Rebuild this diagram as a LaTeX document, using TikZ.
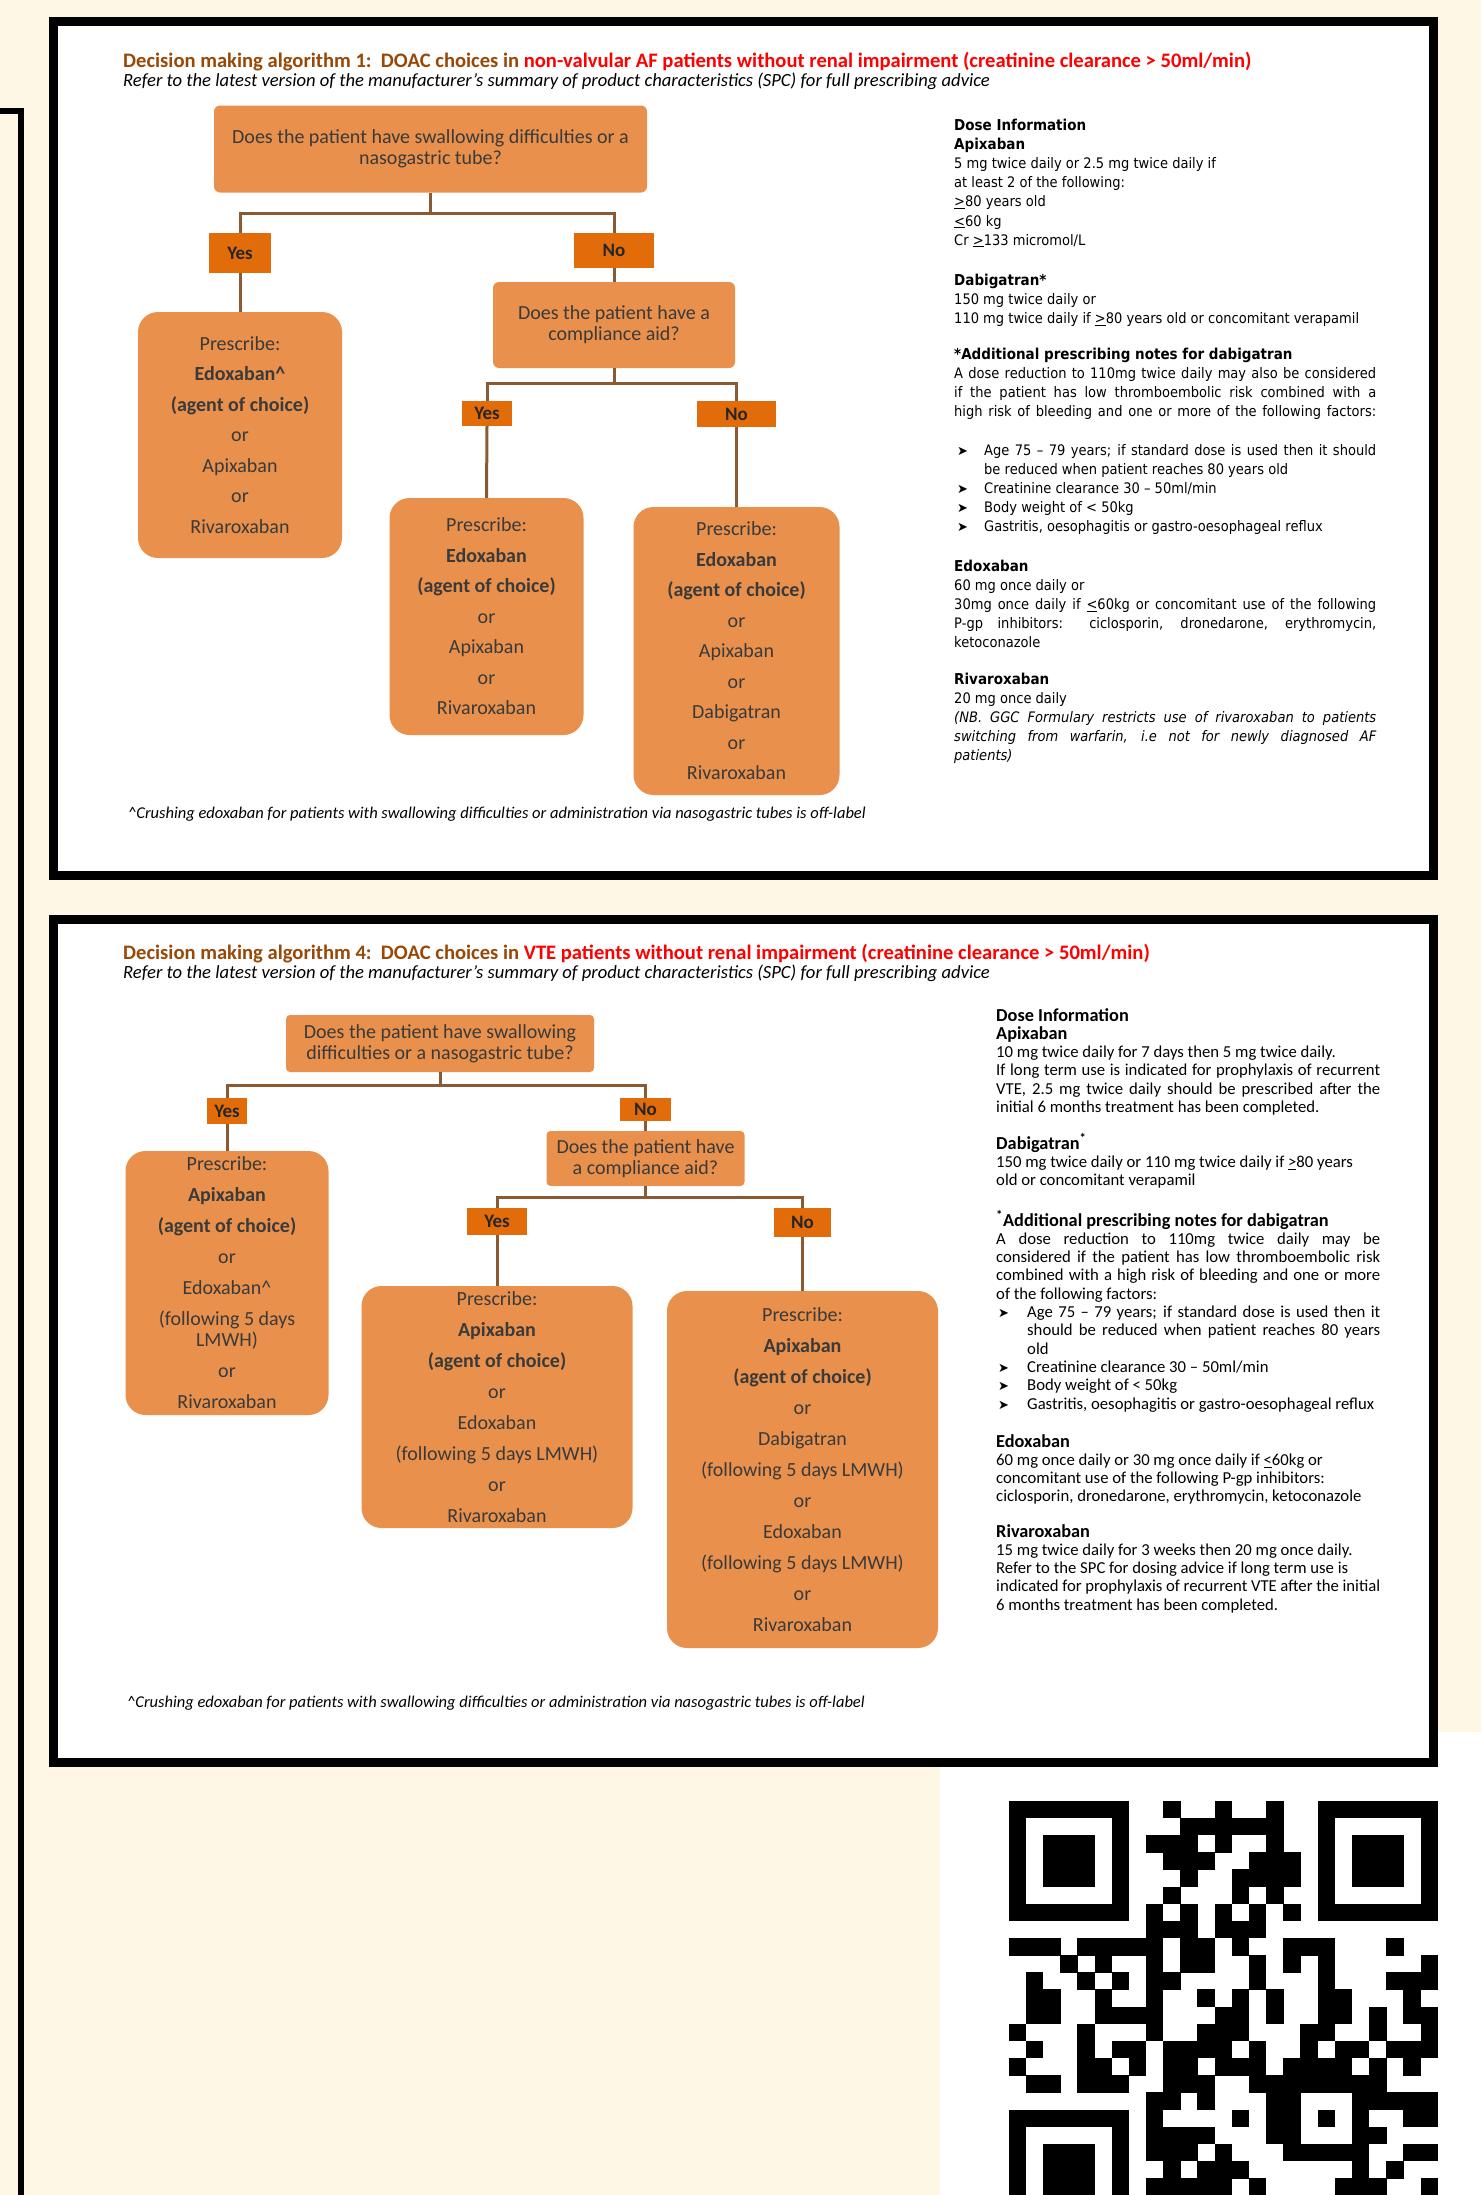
\documentclass[tikz,border=0pt]{standalone}
\usepackage{fontspec}
\usepackage{xcolor}
\setmainfont{Carlito}
\newfontfamily\tahomafam[FakeStretch=0.9]{DejaVu Sans}
\newfontfamily\arrowfam{DejaVu Sans}

\definecolor{cream}{HTML}{FEF7E6}
\definecolor{boxorange}{HTML}{E9914C}
\definecolor{answerorange}{HTML}{E36C0A}
\definecolor{linkbrown}{HTML}{8C5A32}
\definecolor{titlebrown}{HTML}{984807}
\definecolor{headred}{HTML}{FF0000}
\definecolor{boxtext}{HTML}{3A3A3A}

\newcommand{\titlefont}{\fontsize{20.6}{23}\selectfont\bfseries}
\newcommand{\subfont}{\fontsize{18.6}{21}\selectfont\itshape}
\newcommand{\notefont}{\fontsize{16.5}{19}\selectfont\itshape}
\newcommand{\askfont}{\fontsize{20}{21}\selectfont}
\newcommand{\rxfontA}{\fontsize{20}{30.5}\selectfont}
\newcommand{\rxfontB}{\fontsize{20}{31}\selectfont}
\newcommand{\answerfont}{\fontsize{19}{21}\selectfont\bfseries}
\newcommand{\doseAfont}{\tahomafam\fontsize{14.5}{19.2}\selectfont}
\newcommand{\doseBfont}{\fontsize{16.7}{18.3}\selectfont}
\newcommand{\hdA}[1]{{\fontsize{15}{19.2}\selectfont\bfseries #1}}
\newcommand{\hdB}[1]{{\fontsize{18.3}{18.3}\selectfont\bfseries #1}}
\newcommand{\jA}[1]{\makebox[422pt][s]{#1}}
\newcommand{\jAb}[1]{\makebox[392pt][s]{#1}}
\newcommand{\jB}[1]{\makebox[384pt][s]{#1}}
\newcommand{\jBb}[1]{\makebox[353pt][s]{#1}}
\newcommand{\bulA}{\hspace*{3pt}\makebox[27pt][l]{\arrowfam\fontsize{13}{13}\selectfont ➤}}
\newcommand{\bulB}{\hspace*{2pt}\makebox[29pt][l]{\arrowfam\fontsize{13}{13}\selectfont ➤}}

\tikzset{
  panel/.style={fill=white, draw=black, line width=9pt},
  head/.style={anchor=base west, inner sep=0pt, font=\titlefont, text=headred},
  subhead/.style={anchor=base west, inner sep=0pt, font=\subfont},
  footnote/.style={anchor=base west, inner sep=0pt, font=\notefont},
  askbox/.style={fill=boxorange, rounded corners=6pt, inner sep=0pt, align=center, text=boxtext, font=\askfont},
  rxbox/.style={fill=boxorange, rounded corners=20pt, inner sep=0pt, align=center, text=boxtext},
  answer/.style={fill=answerorange, inner sep=0pt, font=\answerfont, text=black!85},
  link/.style={draw=linkbrown, line width=3pt},
  doseA/.style={anchor=base west, inner sep=0pt, align=flush left, text width=422pt, font=\doseAfont},
  doseB/.style={anchor=base west, inner sep=0pt, align=flush left, text width=384pt, font=\doseBfont}
}

\begin{document}
\begin{tikzpicture}[x=1pt,y=-1pt]
  \useasboundingbox (0,0) rectangle (1481,2195);
  \fill[cream] (0,0) rectangle (1481,2195);
  \fill[white] (940,1732) rectangle (1481,2195);
  \draw[line width=6pt] (0,111) -- (20.5,111) -- (20.5,2200);
  \draw[panel] (53,21) rectangle (1433,875);
  \draw[panel] (53,919) rectangle (1433,1762);

  % algorithm 1
  \node[head] (title1) at (123,67) {\textcolor{titlebrown}{Decision making algorithm 1:\ \ DOAC choices in} non-valvular AF patients without renal impairment (creatinine clearance > 50ml/min)};
  \node[subhead] (sub1) at (123,86) {Refer to the latest version of the manufacturer’s summary of product characteristics (SPC) for full prescribing advice};

  \node[askbox, minimum width=433, minimum height=87] (q1a) at (430.5,149) {Does the patient have swallowing difficulties or a\\nasogastric tube?};
  \node[answer, minimum width=62, minimum height=40] (yes1a) at (240,253) {Yes};
  \node[answer, minimum width=80, minimum height=35] (no1a) at (614,250.5) {No};
  \node[rxbox, font=\rxfontA, minimum width=204, minimum height=246] (rxa1) at (240,435) {Prescribe:\\\textbf{Edoxaban\textasciicircum}\\\textbf{(agent of choice)}\\or\\Apixaban\\or\\Rivaroxaban};
  \node[askbox, minimum width=242, minimum height=86] (q2a) at (614,325) {Does the patient have a\\compliance aid?};
  \node[answer, minimum width=50, minimum height=25] (yes2a) at (487,413.5) {Yes};
  \node[answer, minimum width=79, minimum height=26] (no2a) at (736.5,414) {No};
  \node[rxbox, font=\rxfontA, minimum width=194, minimum height=237] (rxa2) at (486.5,616.5) {Prescribe:\\\textbf{Edoxaban}\\\textbf{(agent of choice)}\\or\\Apixaban\\or\\Rivaroxaban};
  \node[rxbox, font=\rxfontA, minimum width=206, minimum height=288] (rxa3) at (736.5,651) {Prescribe:\\\textbf{Edoxaban}\\\textbf{(agent of choice)}\\or\\Apixaban\\or\\Dabigatran\\or\\Rivaroxaban};

  \draw[link] (q1a.south) -- ++(0,20.5) -| (yes1a.north);
  \draw[link] (q1a.south) -- ++(0,20.5) -| (no1a.north);
  \draw[link] (yes1a.south) -- (rxa1.north);
  \draw[link] (no1a.south) -- (q2a.north);
  \draw[link] (q2a.south) -- ++(0,15) -| (yes2a.north);
  \draw[link] (q2a.south) -- ++(0,15) -| (no2a.north);
  \draw[link] (yes2a.south) -- (rxa2.north);
  \draw[link] (no2a.south) -- (rxa3.north);

  \node[footnote] (note1) at (128,818) {\textasciicircum Crushing edoxaban for patients with swallowing difficulties or administration via nasogastric tubes is off-label};

  \node[doseA] (dose1a) at (954,130) {\hdA{Dose Information}\\\hdA{Apixaban}\\5 mg twice daily or 2.5 mg twice daily if\\at least 2 of the following:\\\underline{>}80 years old\\\underline{<}60 kg\\Cr \underline{>}133 micromol/L};
  \node[doseA] (dose1b) at (954,285) {\hdA{Dabigatran*}\\150 mg twice daily or\\110 mg twice daily if \underline{>}80 years old or concomitant verapamil};
  \node[doseA] (dose1c) at (954,359) {\hdA{*Additional prescribing notes for dabigatran}\\\jA{A dose reduction to 110mg twice daily may also be considered}\\\jA{if the patient has low thromboembolic risk combined with a}\\\jA{high risk of bleeding and one or more of the following factors:}};
  \node[doseA] (dose1d) at (954,455) {\bulA\jAb{Age 75 – 79 years; if standard dose is used then it should}\\\hspace*{30pt}be reduced when patient reaches 80 years old\\\bulA Creatinine clearance 30 – 50ml/min\\\bulA Body weight of < 50kg\\\bulA Gastritis, oesophagitis or gastro-oesophageal reflux};
  \node[doseA] (dose1e) at (954,571) {\hdA{Edoxaban}\\60 mg once daily or\\\jA{30mg once daily if \underline{<}60kg or concomitant use of the following}\\\jA{P-gp inhibitors: ciclosporin, dronedarone, erythromycin,}\\ketoconazole};
  \node[doseA] (dose1f) at (954,684) {\hdA{Rivaroxaban}\\20 mg once daily\\\itshape\jA{(NB. GGC Formulary restricts use of rivaroxaban to patients}\\\jA{switching from warfarin, i.e not for newly diagnosed AF}\\patients)};

  % algorithm 4
  \node[head] (title2) at (123,959) {\textcolor{titlebrown}{Decision making algorithm 4:\ \ DOAC choices in} VTE patients without renal impairment (creatinine clearance > 50ml/min)};
  \node[subhead] (sub2) at (123,978) {Refer to the latest version of the manufacturer’s summary of product characteristics (SPC) for full prescribing advice};

  \node[askbox, rounded corners=4pt, minimum width=308, minimum height=57] (q1b) at (440,1043.5) {Does the patient have swallowing\\difficulties or a nasogastric tube?};
  \node[answer, minimum width=40, minimum height=26] (yes1b) at (227,1111) {Yes};
  \node[answer, minimum width=51, minimum height=23] (no1b) at (645.5,1109.5) {No};
  \node[rxbox, font=\rxfontB, minimum width=203, minimum height=264] (rxb1) at (227,1283) {Prescribe:\\\textbf{Apixaban}\\\textbf{(agent of choice)}\\or\\Edoxaban\textasciicircum\\(following 5 days\\[-10pt]LMWH)\\or\\Rivaroxaban};
  \node[askbox, rounded corners=4pt, minimum width=198, minimum height=55] (q2b) at (645.5,1158.5) {Does the patient have\\a compliance aid?};
  \node[answer, minimum width=60, minimum height=27] (yes2b) at (497,1221.5) {Yes};
  \node[answer, minimum width=57, minimum height=29] (no2b) at (802.5,1222.5) {No};
  \node[rxbox, font=\rxfontB, minimum width=271, minimum height=242] (rxb2) at (497,1407) {Prescribe:\\\textbf{Apixaban}\\\textbf{(agent of choice)}\\or\\Edoxaban\\(following 5 days LMWH)\\or\\Rivaroxaban};
  \node[rxbox, font=\rxfontB, minimum width=271, minimum height=357] (rxb3) at (802.5,1469.5) {Prescribe:\\\textbf{Apixaban}\\\textbf{(agent of choice)}\\or\\Dabigatran\\(following 5 days LMWH)\\or\\Edoxaban\\(following 5 days LMWH)\\or\\Rivaroxaban};

  \draw[link] (q1b.south) -- ++(0,13) -| (yes1b.north);
  \draw[link] (q1b.south) -- ++(0,13) -| (no1b.north);
  \draw[link] (yes1b.south) -- (rxb1.north);
  \draw[link] (no1b.south) -- (q2b.north);
  \draw[link] (q2b.south) -- ++(0,11) -| (yes2b.north);
  \draw[link] (q2b.south) -- ++(0,11) -| (no2b.north);
  \draw[link] (yes2b.south) -- (rxb2.north);
  \draw[link] (no2b.south) -- (rxb3.north);

  \node[footnote] (note2) at (127,1707) {\textasciicircum Crushing edoxaban for patients with swallowing difficulties or administration via nasogastric tubes is off-label};

  \node[doseB] (dose2a) at (996,1021) {\hdB{Dose Information}\\\hdB{Apixaban}\\10 mg twice daily for 7 days then 5 mg twice daily.\\\jB{If long term use is indicated for prophylaxis of recurrent}\\\jB{VTE, 2.5 mg twice daily should be prescribed after the}\\initial 6 months treatment has been completed.};
  \node[doseB] (dose2b) at (996,1149) {\hdB{Dabigatran\textsuperscript{*}}\\150 mg twice daily or 110 mg twice daily if \underline{>}80 years\\old or concomitant verapamil};
  \node[doseB] (dose2c) at (996,1226) {\hdB{\textsuperscript{*}Additional prescribing notes for dabigatran}\\\jB{A dose reduction to 110mg twice daily may be}\\\jB{considered if the patient has low thromboembolic risk}\\\jB{combined with a high risk of bleeding and one or more}\\of the following factors:\\\bulB\jBb{Age 75 – 79 years; if standard dose is used then it}\\\hspace*{31pt}\jBb{should be reduced when patient reaches 80 years}\\\hspace*{31pt}old\\\bulB Creatinine clearance 30 – 50ml/min\\\bulB Body weight of < 50kg\\\bulB Gastritis, oesophagitis or gastro-oesophageal reflux};
  \node[doseB] (dose2d) at (996,1447) {\hdB{Edoxaban}\\60 mg once daily or 30 mg once daily if \underline{<}60kg or\\concomitant use of the following P-gp inhibitors:\\ciclosporin, dronedarone, erythromycin, ketoconazole};
  \node[doseB] (dose2e) at (996,1537) {\hdB{Rivaroxaban}\\15 mg twice daily for 3 weeks then 20 mg once daily.\\Refer to the SPC for dosing advice if long term use is\\\jB{indicated for prophylaxis of recurrent VTE after the initial}\\6 months treatment has been completed.};

  % qr code
  \foreach \r/\cl in {
      0/{0,1,2,3,4,5,6,9,12,15,18,19,20,21,22,23,24},
      1/{0,6,10,11,12,13,14,15,18,24},
      2/{0,2,3,4,6,8,9,10,12,15,18,20,21,22,24},
      3/{0,2,3,4,6,9,10,11,14,15,16,18,20,21,22,24},
      4/{0,2,3,4,6,10,13,14,15,16,18,20,21,22,24},
      5/{0,6,9,13,15,18,24},
      6/{0,1,2,3,4,5,6,8,10,12,14,16,18,19,20,21,22,23,24},
      7/{8,9,10,12,13,14},
      8/{0,1,2,4,5,6,7,8,10,11,13,16,17,18,22},
      9/{3,5,8,10,11,14,16,18,24},
      10/{1,4,6,8,9,14,18,22,23,24},
      11/{1,2,5,8,11,13,15,18,19,23},
      12/{1,2,5,6,7,8,12,13,15,18,19,21,23,24},
      13/{0,4,8,11,12,13,17,18,21,24},
      14/{1,4,6,7,9,10,11,12,14,17,19,20,22,23,24},
      15/{0,4,5,7,9,10,12,13,14,16,17,18,19,21,23},
      16/{1,2,4,5,6,9,10,11,14,15,16,17,18,19,20,21},
      17/{8,9,11,15,16,20,21,22,23,24},
      18/{0,1,2,3,4,5,6,8,13,15,16,18,20,23,24},
      19/{0,6,8,9,10,11,15,16,20,21},
      20/{0,2,3,4,6,8,9,10,12,16,17,18,19,20,23,24},
      21/{0,2,3,4,6,9,11,12,13,20,22},
      22/{0,2,3,4,6,8,9,10,11,12,14,19,20,21,24}}
    \foreach \c in \cl
      \fill (1008.7+17.16*\c,1800.7+17.16*\r) rectangle ++(17.5,17.5);
\end{tikzpicture}
\end{document}
